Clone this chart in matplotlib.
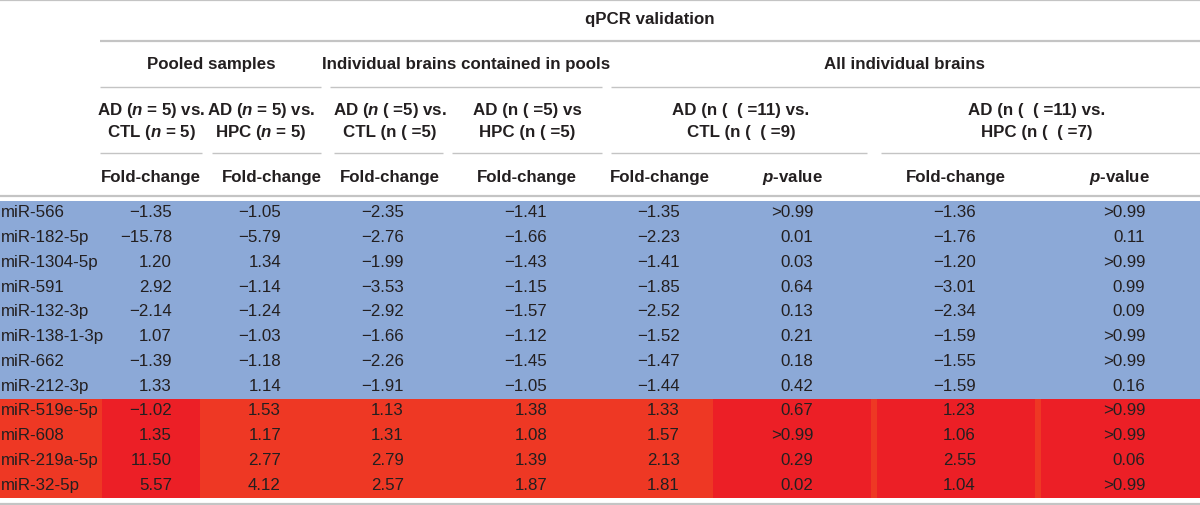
import matplotlib
matplotlib.use("Agg")
import matplotlib.pyplot as plt
from matplotlib.patches import Rectangle

plt.rcParams['font.family'] = ['Liberation Sans', 'DejaVu Sans']
plt.rcParams['mathtext.fontset'] = 'custom'
plt.rcParams['mathtext.it'] = 'Liberation Sans:italic:bold'
plt.rcParams['mathtext.rm'] = 'Liberation Sans:bold'

# datos de la tabla
mirnas = ['miR-566', 'miR-182-5p', 'miR-1304-5p', 'miR-591', 'miR-132-3p',
          'miR-138-1-3p', 'miR-662', 'miR-212-3p', 'miR-519e-5p', 'miR-608',
          'miR-219a-5p', 'miR-32-5p']
n_down = 8  # primeras 8 filas (azul), el resto en rojo

fc_pool_ctl = [-1.35, -15.78, 1.20, 2.92, -2.14, 1.07, -1.39, 1.33, -1.02, 1.35, 11.50, 5.57]
fc_pool_hpc = [-1.05, -5.79, 1.34, -1.14, -1.24, -1.03, -1.18, 1.14, 1.53, 1.17, 2.77, 4.12]
fc_indiv_ctl = [-2.35, -2.76, -1.99, -3.53, -2.92, -1.66, -2.26, -1.91, 1.13, 1.31, 2.79, 2.57]
fc_indiv_hpc = [-1.41, -1.66, -1.43, -1.15, -1.57, -1.12, -1.45, -1.05, 1.38, 1.08, 1.39, 1.87]
fc_all_ctl = [-1.35, -2.23, -1.41, -1.85, -2.52, -1.52, -1.47, -1.44, 1.33, 1.57, 2.13, 1.81]
p_all_ctl = ['>0.99', '0.01', '0.03', '0.64', '0.13', '0.21', '0.18', '0.42',
             '0.67', '>0.99', '0.29', '0.02']
fc_all_hpc = [-1.36, -1.76, -1.20, -3.01, -2.34, -1.59, -1.55, -1.59, 1.23, 1.06, 2.55, 1.04]
p_all_hpc = ['>0.99', '0.11', '>0.99', '0.99', '0.09', '>0.99', '>0.99', '0.16',
             '>0.99', '>0.99', '0.06', '>0.99']

title = 'qPCR validation'
groups = ['Pooled samples', 'Individual brains contained in pools', 'All individual brains']
comparisons = [('AD ($n$ = 5) vs.', 'CTL ($n$ = 5)'),
               ('AD ($n$ = 5) vs.', 'HPC ($n$ = 5)'),
               ('AD ($n$ ( =5) vs.', 'CTL (n ( =5)'),
               ('AD (n ( =5) vs', 'HPC (n ( =5)'),
               ('AD (n (  ( =11) vs.', 'CTL (n (  ( =9)'),
               ('AD (n (  ( =11) vs.', 'HPC (n (  ( =7)')]
col_heads = ['Fold-change'] * 5 + ['$p$-value', 'Fold-change', '$p$-value']

columns = [fc_pool_ctl, fc_pool_hpc, fc_indiv_ctl, fc_indiv_hpc,
           fc_all_ctl, p_all_ctl, fc_all_hpc, p_all_hpc]

# geometria (en pixeles)
W, H = 1200, 506
txt = '#231F20'
rule = '#C4C4C4'
blue = '#8CA9D7'
orange = '#EE3824'
red = '#EC1F26'
fs = 12.2

col_right = [172, 281, 404, 547, 680, 813, 976, 1145]
head_x = [151, 272, 390, 527, 660, 792, 956, 1119]
comp_x = [151, 261, 390, 527, 741, 1037]
group_x = [211, 466, 905]
group_lines = [(100, 321), (330, 602), (611, 1200)]
comp_lines = [(100, 202), (212, 321), (334, 443), (452, 602), (611, 867), (881, 1200)]
red_edges = [0, 102, 200, 713, 871, 877, 1035, 1041, 1200]
red_cols = [orange, red, orange, red, orange, red, orange, red]

body_top, row_h = 202, 24.75

fig = plt.figure(figsize=(12, 5.06), dpi=100)
ax = fig.add_axes([0, 0, 1, 1])
ax.set_xlim(0, W)
ax.set_ylim(H, 0)
ax.axis('off')

# fondos
n = len(mirnas)
ax.add_patch(Rectangle((0, body_top), W, n_down * row_h, color=blue, lw=0))
y_up = body_top + n_down * row_h
for k in range(len(red_cols)):
    ax.add_patch(Rectangle((red_edges[k], y_up), red_edges[k + 1] - red_edges[k],
                           (n - n_down) * row_h, color=red_cols[k], lw=0))

# lineas
for y, lw in [(1, 1.6), (197, 1.6), (505, 1.6)]:
    ax.plot([0, W], [y, y], color=rule, lw=lw, solid_capstyle='butt')
ax.plot([100, W], [42, 42], color=rule, lw=1.6, solid_capstyle='butt')
for a, b in group_lines:
    ax.plot([a, b], [88, 88], color=rule, lw=1.0, solid_capstyle='butt')
for a, b in comp_lines:
    ax.plot([a, b], [154, 154], color=rule, lw=1.0, solid_capstyle='butt')

# encabezados
hk = dict(ha='center', va='center', color=txt, fontsize=fs, fontweight='bold')
ax.text(650, 19, title, **hk)
for x, g in zip(group_x, groups):
    ax.text(x, 64, g, **hk)
for x, (l1, l2) in zip(comp_x, comparisons):
    ax.text(x, 110, l1, **hk)
    ax.text(x, 132, l2, **hk)
for x, h in zip(head_x, col_heads):
    ax.text(x, 177, h, **hk)

# cuerpo
def fmt(v):
    if isinstance(v, str):
        return v
    return f'{v:.2f}'.replace('-', '\u2212')

for i, name in enumerate(mirnas):
    y = body_top + (i + 0.5) * row_h - 1.5
    ax.text(1, y, name, ha='left', va='center', color=txt, fontsize=fs)
    for xr, col in zip(col_right, columns):
        ax.text(xr, y, fmt(col[i]), ha='right', va='center', color=txt, fontsize=fs)

fig.savefig('out.png', dpi=100)
